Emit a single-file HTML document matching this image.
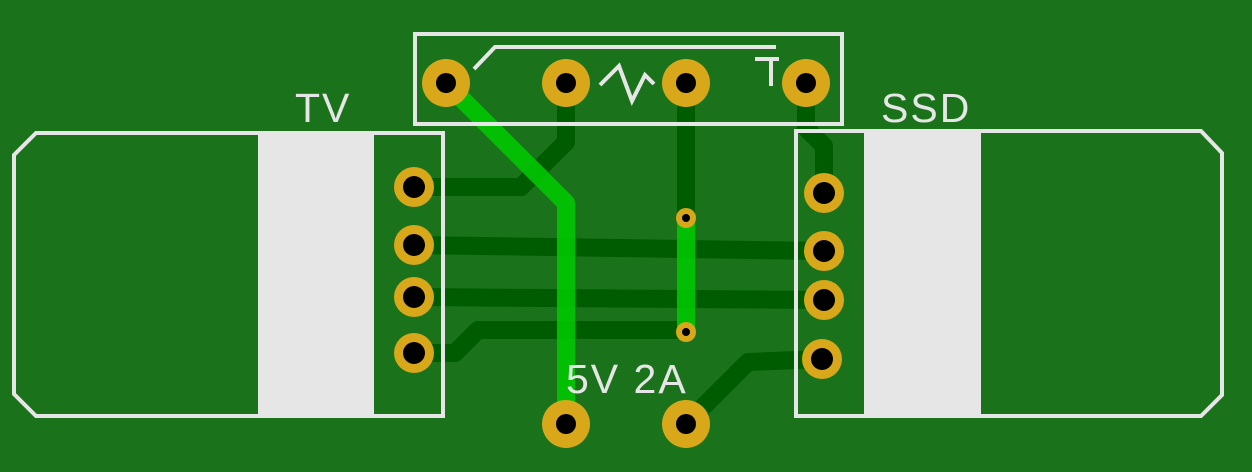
<!DOCTYPE html>
<html><head><style>body{margin:0;background:#1a731a}svg{display:block}</style></head>
<body>
<svg width="1252" height="472" viewBox="0 0 1252 472" xmlns="http://www.w3.org/2000/svg">
<rect width="1252" height="472" fill="#1a731a"/>
<rect x="258" y="135" width="116" height="280" fill="#e6e6e6"/>
<rect x="864" y="133" width="117" height="282" fill="#e6e6e6"/>
<g fill="none" stroke="#005c00" stroke-width="18" stroke-linejoin="round" stroke-linecap="round">
<polyline points="566,83 566,142 521,187 414,187"/>
<polyline points="686,83 686,218"/>
<polyline points="806,83 806,128 824,146 824,193"/>
<polyline points="414,245 824,251"/>
<polyline points="414,297 824,300"/>
<polyline points="414,353 455,353 478,330 686,330"/>
<polyline points="686,424 748,362 822,359"/>
</g>
<g fill="none" stroke="#00cc00" stroke-opacity="0.85" stroke-width="18" stroke-linejoin="round">
<polyline points="446,83 566,203 566,424"/>
<polyline points="686,218 686,330"/>
</g>
<g fill="none" stroke="#e6e6e6" stroke-width="4">
<rect x="415" y="34" width="427" height="90"/>
<polyline points="474,69 495,47 776,47"/>
<polyline points="600,85 619,66 632,101 645,75 654,84"/>
<polyline points="755,59 779,59"/><polyline points="771,59 771,86"/>
<polygon points="36,133 443,133 443,416 36,416 14,394 14,155"/>
<polygon points="796,131 1201,131 1222,153 1222,395 1201,416 796,416"/>
</g>
<g fill="#d9a81a">
<circle cx="446" cy="83" r="24"/><circle cx="566" cy="83" r="24"/><circle cx="686" cy="83" r="24"/><circle cx="806" cy="83" r="24"/>
<circle cx="566" cy="424" r="24"/><circle cx="686" cy="424" r="24"/>
<circle cx="414" cy="187" r="20"/><circle cx="414" cy="245" r="20"/><circle cx="414" cy="297" r="20"/><circle cx="414" cy="353" r="20"/>
<circle cx="824" cy="193" r="20"/><circle cx="824" cy="251" r="20"/><circle cx="824" cy="300" r="20"/><circle cx="822" cy="359" r="20"/>
<circle cx="686" cy="218" r="10"/><circle cx="686" cy="332" r="10"/>
</g>
<g fill="#000">
<circle cx="446" cy="83" r="10"/><circle cx="566" cy="83" r="10"/><circle cx="686" cy="83" r="10"/><circle cx="806" cy="83" r="10"/>
<circle cx="566" cy="424" r="10"/><circle cx="686" cy="424" r="10"/>
<circle cx="414" cy="187" r="11"/><circle cx="414" cy="245" r="11"/><circle cx="414" cy="297" r="11"/><circle cx="414" cy="353" r="11"/>
<circle cx="824" cy="193" r="11"/><circle cx="824" cy="251" r="11"/><circle cx="824" cy="300" r="11"/><circle cx="822" cy="359" r="11"/>
<circle cx="686" cy="218" r="4"/><circle cx="686" cy="332" r="4"/>
</g>
<g fill="#e6e6e6" font-family="Liberation Sans, sans-serif" font-size="41">
<text x="295" y="122" letter-spacing="2">TV</text>
<text x="881" y="122" letter-spacing="2">SSD</text>
<text x="566" y="393" letter-spacing="2">5V 2A</text>
</g>
</svg>
</body></html>
